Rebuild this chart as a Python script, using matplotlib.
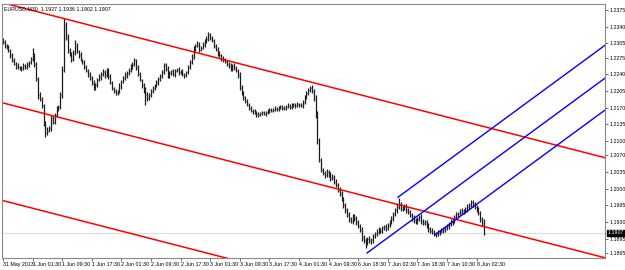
import numpy as np
import matplotlib
matplotlib.use('Agg')
import matplotlib.pyplot as plt
import matplotlib.transforms as mtransforms

plt.rcParams['font.family'] = ['Liberation Sans Narrow', 'Liberation Sans', 'DejaVu Sans']

###
# DADOS (preços em pips: 12308 -> 1.2308), barras de 30 min
###
titulo = 'EURUSD,M30  1.1927 1.1936 1.1902 1.1907'

abertura_inicial = 12312
fechamento = [
    12308, 12300, 12296, 12290, 12281, 12270, 12262, 12257, 12255, 12252,
    12253, 12258, 12255, 12260, 12264, 12272, 12281, 12262, 12230, 12196,
    12188, 12175, 12138, 12117, 12122, 12128, 12148, 12140, 12155, 12168,
    12172, 12196, 12249, 12344, 12318, 12290, 12282, 12272, 12285, 12300,
    12288, 12280, 12270, 12266, 12256, 12248, 12240, 12232, 12222, 12212,
    12218, 12228, 12234, 12240, 12244, 12238, 12250, 12236, 12222, 12211,
    12205, 12200, 12204, 12215, 12224, 12232, 12238, 12242, 12248, 12255,
    12262, 12270, 12255, 12240, 12228, 12217, 12208, 12196, 12190, 12196,
    12204, 12212, 12217, 12224, 12230, 12235, 12245, 12260, 12252, 12238,
    12242, 12246, 12240, 12248, 12250, 12244, 12246, 12240, 12238, 12244,
    12255, 12266, 12276, 12295, 12300, 12302, 12292, 12296, 12302, 12310,
    12314, 12322, 12316, 12312, 12300, 12292, 12284, 12280, 12274, 12270,
    12266, 12262, 12258, 12250, 12258, 12254, 12248, 12238, 12212, 12200,
    12192, 12184, 12176, 12170, 12164, 12162, 12160, 12156, 12155, 12158,
    12160, 12157, 12160, 12163, 12166, 12164, 12166, 12168, 12167, 12170,
    12172, 12170, 12169, 12172, 12174, 12172, 12175, 12176, 12174, 12177,
    12176, 12174, 12182, 12192, 12200, 12207, 12212, 12205, 12190, 12155,
    12100, 12060, 12040, 12032, 12028, 12036, 12030, 12022, 12025, 12015,
    12008, 11998, 11990, 11978, 11965, 11955, 11944, 11936, 11932, 11942,
    11938, 11930, 11922, 11914, 11898, 11892, 11886, 11894, 11890, 11892,
    11900, 11906, 11910, 11914, 11912, 11917, 11920, 11918, 11924, 11930,
    11938, 11946, 11955, 11962, 11968, 11958, 11960, 11962, 11955, 11951,
    11945, 11938, 11934, 11930, 11936, 11940, 11932, 11928, 11930, 11922,
    11916, 11912, 11908, 11906, 11905, 11908, 11910, 11912, 11914, 11918,
    11921, 11926, 11930, 11934, 11940, 11946, 11948, 11952, 11954, 11952,
    11956, 11962, 11966, 11972, 11968, 11962, 11956, 11948, 11936, 11927,
    11907,
]
# sombra superior e inferior (pips) de cada barra
sombra_sup = [
    5, 4, 3, 6, 4, 3, 5, 4, 6, 3,
    4, 5, 3, 6, 4, 5, 14, 4, 3, 5,
    6, 4, 3, 5, 7, 4, 6, 5, 4, 5,
    4, 7, 9, 14, 6, 7, 5, 4, 6, 12,
    5, 4, 6, 3, 5, 4, 3, 5, 4, 6,
    4, 5, 6, 4, 7, 5, 4, 3, 5, 4,
    3, 5, 4, 6, 4, 5, 7, 4, 5, 6,
    4, 5, 3, 4, 5, 3, 4, 5, 6, 4,
    5, 4, 3, 5, 4, 6, 5, 4, 3, 5,
    4, 3, 5, 4, 3, 5, 4, 6, 3, 4,
    5, 4, 6, 5, 4, 7, 5, 4, 6, 5,
    6, 7, 4, 5, 3, 4, 5, 4, 3, 5,
    4, 5, 3, 6, 4, 5, 3, 4, 6, 5,
    4, 3, 5, 4, 3, 4, 5, 3, 4, 3,
    4, 3, 4, 5, 3, 4, 3, 5, 4, 3,
    4, 3, 3, 4, 5, 3, 4, 3, 4, 5,
    3, 4, 5, 4, 6, 5, 4, 5, 4, 6,
    7, 6, 5, 4, 6, 5, 4, 6, 5, 4,
    5, 4, 6, 5, 4, 5, 4, 6, 5, 4,
    5, 4, 5, 4, 6, 5, 4, 5, 6, 4,
    5, 4, 6, 5, 4, 5, 4, 6, 5, 4,
    5, 6, 4, 5, 12, 5, 4, 6, 5, 4,
    5, 4, 6, 5, 4, 5, 6, 4, 5, 4,
    5, 4, 6, 5, 4, 5, 4, 6, 5, 4,
    5, 4, 6, 5, 4, 5, 4, 6, 5, 4,
    5, 6, 4, 5, 4, 5, 4, 6, 5, 4,
    9,
]
sombra_inf = [
    4, 5, 3, 4, 6, 4, 3, 5, 4, 3,
    5, 4, 3, 4, 5, 3, 4, 6, 5, 7,
    5, 6, 7, 9, 5, 4, 6, 5, 4, 5,
    4, 5, 6, 4, 7, 5, 4, 6, 4, 5,
    4, 5, 3, 4, 5, 4, 6, 3, 5, 4,
    5, 4, 3, 5, 4, 6, 4, 5, 3, 4,
    5, 4, 3, 4, 5, 3, 4, 5, 4, 3,
    4, 5, 6, 4, 3, 5, 7, 20, 5, 4,
    4, 3, 5, 4, 6, 4, 3, 5, 4, 6,
    5, 4, 3, 6, 4, 5, 3, 4, 5, 4,
    4, 3, 5, 4, 6, 3, 5, 4, 3, 5,
    4, 5, 3, 4, 5, 4, 6, 3, 5, 4,
    3, 4, 5, 4, 3, 5, 4, 6, 5, 4,
    5, 4, 3, 5, 4, 6, 4, 5, 4, 3,
    4, 3, 4, 3, 5, 4, 3, 4, 3, 5,
    3, 4, 3, 4, 3, 4, 5, 3, 4, 3,
    4, 3, 4, 5, 3, 4, 5, 4, 6, 7,
    6, 5, 6, 4, 5, 4, 6, 5, 4, 5,
    4, 5, 6, 4, 5, 6, 4, 5, 4, 6,
    5, 6, 4, 5, 7, 6, 11, 5, 4, 6,
    5, 4, 6, 5, 4, 5, 4, 6, 5, 4,
    4, 5, 4, 6, 5, 4, 5, 4, 6, 5,
    4, 5, 6, 4, 5, 4, 6, 5, 4, 5,
    6, 5, 4, 5, 6, 4, 5, 4, 5, 4,
    4, 5, 4, 6, 5, 4, 5, 4, 6, 5,
    4, 5, 4, 5, 6, 4, 5, 4, 5, 6,
    5,
]

# eixo do tempo (rótulo a cada 16 barras)
rotulos_tempo = ['31 May 2013', '1 Jun 01:30', '1 Jun 09:30', '1 Jun 17:30',
                 '2 Jun 01:30', '2 Jun 09:30', '2 Jun 17:30', '3 Jun 01:30',
                 '3 Jun 09:30', '3 Jun 17:30', '4 Jun 01:30', '4 Jun 09:30',
                 '6 Jun 18:30', '7 Jun 02:30', '7 Jun 18:30', '7 Jun 10:30',
                 '8 Jun 02:30']
rotulos_preco = [1.2375, 1.2340, 1.2305, 1.2275, 1.2240, 1.2205, 1.2170,
                 1.2135, 1.2100, 1.2070, 1.2035, 1.2000, 1.1965, 1.1930,
                 1.1895, 1.1865]

# linhas de tendência: (barra inicial, preço), (barra final, preço)
canal_vermelho = [((0, 1.2390), (325.4, 1.2065)),
                  ((0, 1.2180), (325.4, 1.1855)),
                  ((0, 1.1975), (325.4, 1.1650))]
garfo_azul = [((213.5, 1.1982), (325.4, 1.2301)),
              ((196.8, 1.1865), (325.4, 1.2232)),
              ((233.5, 1.1903), (325.4, 1.2165))]

###
# PREPARAÇÃO OHLC
###
fech = np.array(fechamento) / 1e4
abre = np.concatenate([[abertura_inicial / 1e4], fech[:-1]])
maxi = np.maximum(abre, fech) + np.array(sombra_sup) / 1e4
mini = np.minimum(abre, fech) - np.array(sombra_inf) / 1e4
idx = np.arange(len(fech))

###
# GRÁFICO
###
fig = plt.figure(figsize=(6.25, 2.7), dpi=100)
ax = fig.add_axes([2 / 625, 12 / 270, 603 / 625, 254 / 270])

ax.vlines(idx, mini, maxi, color='#1a1a1a', lw=0.9)
ax.hlines(abre, idx - 0.5, idx, color='#555555', lw=0.5)
ax.hlines(fech, idx, idx + 0.5, color='#555555', lw=0.5)

for (x0, y0), (x1, y1) in canal_vermelho:
    ax.plot([x0, x1], [y0, y1], color='red', lw=1.1)
for (x0, y0), (x1, y1) in garfo_azul:
    ax.plot([x0, x1], [y0, y1], color='blue', lw=1.0)

# linha do preço atual
ax.axhline(fech[-1], color='#dcdcdc', lw=0.8, zorder=0)

ax.set_xlim(-0.5, 325.4)
ax.set_ylim(1.18545, 1.23876)

ax.yaxis.tick_right()
ax.set_yticks(rotulos_preco)
ax.set_yticklabels(['%.4f' % v for v in rotulos_preco])
ax.set_xticks(np.arange(len(rotulos_tempo)) * 16)
ax.set_xticklabels(rotulos_tempo, ha='left')
ax.tick_params(axis='both', labelsize=3.8, length=2, width=0.6,
               color='#555555', pad=1.0)
for s in ax.spines.values():
    s.set_color('#8a8a8a')
    s.set_linewidth(0.8)

ax.text(0.004, 0.99, titulo, transform=ax.transAxes, fontsize=3.8,
        va='top', ha='left')

# caixa do último preço
trans = mtransforms.blended_transform_factory(ax.transAxes, ax.transData)
ax.text(1.005, fech[-1], '%.4f' % fech[-1], transform=trans, fontsize=3.8,
        color='white', va='center', ha='left', clip_on=False,
        bbox=dict(boxstyle='square,pad=0.15', fc='black', ec='black'))

fig.savefig('out.png', dpi=100, facecolor='white')
